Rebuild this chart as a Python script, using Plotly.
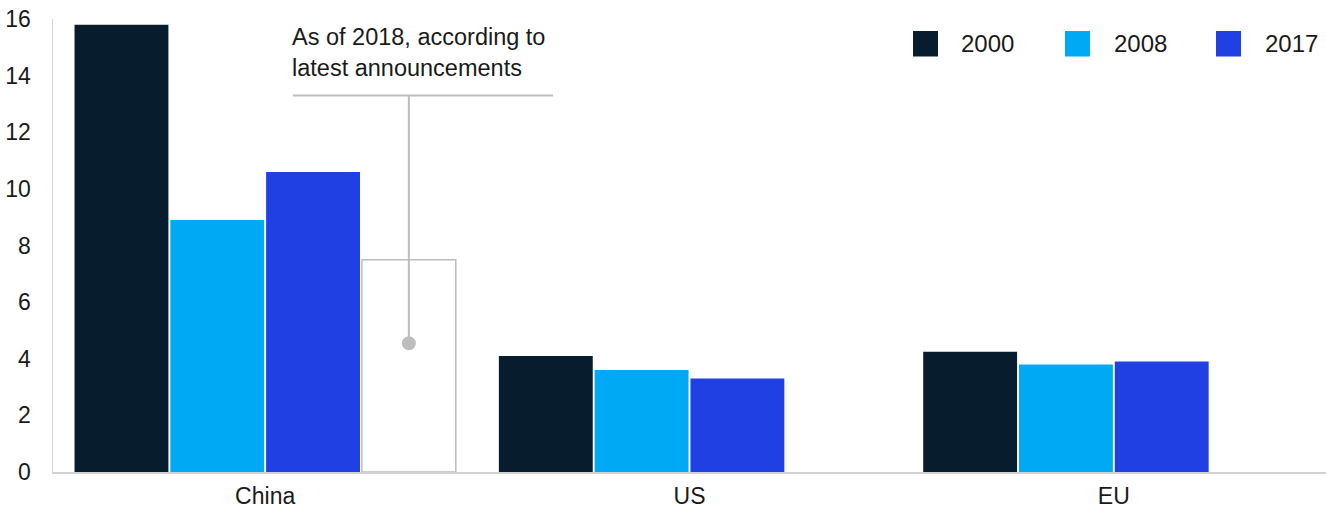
import plotly.graph_objects as go

# ---- data ----
categories = ["China", "US", "EU"]
series_names = ["2000", "2008", "2017"]
values_2000 = [15.8, 4.1, 4.25]
values_2008 = [8.9, 3.6, 3.8]
values_2017 = [10.6, 3.3, 3.9]
values_2018_announced = [7.5, None, None]
annotation_text = "As of 2018, according to<br>latest announcements"
y_ticks = [0, 2, 4, 6, 8, 10, 12, 14, 16]

# ---- style ----
colors = ["#071D2E", "#00A9F4", "#2140E3"]
gray = "#BDBDBD"
axis_gray = "#D3D3D3"
font_family = "Liberation Sans, Arial, sans-serif"
text_color = "#1A1A1A"

W, H = 1326, 511
M_L, M_R, M_T, M_B = 53, 0, 19, 39
PW, PH = W - M_L - M_R, H - M_T - M_B


def px_x(px):
    return (px - M_L) / PW


def px_y(py):
    return (H - M_B - py) / PH


fig = go.Figure()
for name, vals, col in zip(series_names, [values_2000, values_2008, values_2017], colors):
    fig.add_trace(go.Bar(
        x=categories, y=vals, name=name,
        marker=dict(color=col, line=dict(width=0)),
        showlegend=False, hoverinfo="skip",
    ))

fig.add_trace(go.Bar(
    x=categories, y=values_2018_announced, name="2018",
    marker=dict(color="white", line=dict(color=gray, width=1.5)),
    showlegend=False, hoverinfo="skip",
))

# leader line: centre of the 4th bar slot in China group
bargap, bargroupgap = 0.097, 0.02
slot = (1 - bargap) / 4
x_outline_center = 0 - (1 - bargap) / 2 + slot * 3.5
y_leader_top = 13.3
y_leader_dot = 4.55

fig.add_shape(type="line", xref="x", yref="y",
              x0=x_outline_center, x1=x_outline_center,
              y0=y_leader_dot, y1=y_leader_top,
              line=dict(color=gray, width=2))
fig.add_shape(type="line", xref="paper", yref="y",
              x0=px_x(293), x1=px_x(553),
              y0=y_leader_top, y1=y_leader_top,
              line=dict(color=gray, width=2))
fig.add_shape(type="circle", xref="x", yref="y",
              xsizemode="pixel", ysizemode="pixel",
              xanchor=x_outline_center, yanchor=y_leader_dot,
              x0=-7, x1=7, y0=-7, y1=7,
              fillcolor=gray, line=dict(width=0))

fig.add_annotation(
    text=annotation_text, xref="paper", yref="paper",
    x=px_x(290), y=px_y(52), xanchor="left", yanchor="middle",
    align="left", showarrow=False,
    font=dict(family=font_family, size=23.5, color=text_color),
)

# custom legend (large square swatches)
legend_sq_x = [913, 1065, 1216]
legend_txt_x = [959, 1112, 1263]
for name, col, sx, tx in zip(series_names, colors, legend_sq_x, legend_txt_x):
    fig.add_shape(type="rect", xref="paper", yref="paper",
                  x0=px_x(sx), x1=px_x(sx + 25),
                  y0=px_y(56.5), y1=px_y(31),
                  fillcolor=col, line=dict(width=0))
    fig.add_annotation(text=name, xref="paper", yref="paper",
                       x=px_x(tx), y=px_y(44), xanchor="left", yanchor="middle",
                       showarrow=False,
                       font=dict(family=font_family, size=24, color=text_color))

fig.update_layout(
    width=W, height=H,
    margin=dict(l=M_L, r=M_R, t=M_T, b=M_B),
    barmode="group", bargap=bargap, bargroupgap=bargroupgap,
    plot_bgcolor="white", paper_bgcolor="white",
    font=dict(family=font_family, size=23, color=text_color),
    showlegend=False,
)
fig.update_xaxes(
    type="category", range=[-0.5, 2.5], showgrid=False, automargin=False,
    showline=True, linecolor=axis_gray, linewidth=2,
    ticks="", tickfont=dict(size=23, color=text_color),
    ticklabelstandoff=2,
)
fig.update_yaxes(
    range=[0, 16], tickvals=y_ticks, showgrid=False, zeroline=False,
    automargin=False,
    showline=True, linecolor=axis_gray, linewidth=1.5,
    ticks="", tickfont=dict(size=23, color=text_color),
    ticklabelstandoff=16,
)

fig.write_html(
    "out.html",
    config={"displayModeBar": False, "staticPlot": True},
    post_script="document.body.style.margin='0px';document.body.style.overflow='hidden';",
)
